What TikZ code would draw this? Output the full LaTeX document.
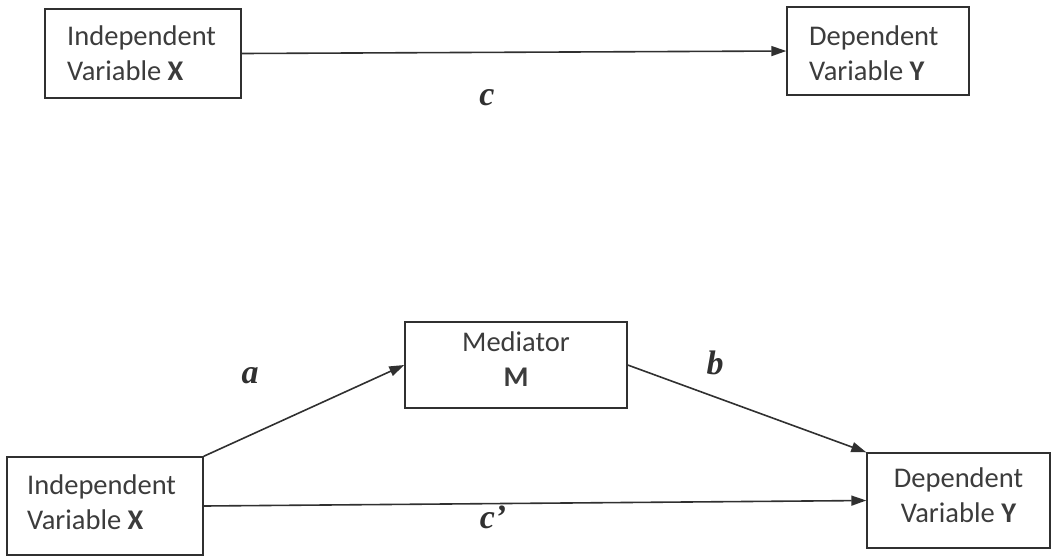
\documentclass[tikz,border=0pt]{standalone}
\usepackage{fontspec}
\setmainfont{Carlito}
\newfontfamily\labelfont{Liberation Serif}
\usetikzlibrary{arrows.meta}
\definecolor{ink}{HTML}{303030}
\definecolor{txt}{HTML}{3c3c3c}
\begin{document}
\begin{tikzpicture}[x=1pt,y=-1pt,
  box/.style={draw=ink, line width=1.4pt, inner sep=0pt},
  words/.style={text=txt, inner sep=0pt, font=\fontsize{28.5}{35}\selectfont},
  leftwords/.style={words, anchor=west, align=left},
  midwords/.style={words, align=center},
  link/.style={draw=ink, line width=1.6pt, -{Triangle[length=15pt,width=10pt]}},
  coef/.style={text=ink, font=\fontsize{34}{34}\labelfont\bfseries\itshape}]
\useasboundingbox (0,0) rectangle (1052,558);
% direct effect
\node[box, minimum width=196pt, minimum height=89pt] (tx) at (143,53.5) {};
\node[leftwords] (tx-t) at (67,53) {Independent\\Variable \textbf{X}};
\node[box, minimum width=182pt, minimum height=88pt] (ty) at (878,51) {};
\node[leftwords] (ty-t) at (809,53) {Dependent\\Variable \textbf{Y}};
\draw[link] (tx.east) -- (ty.west);
\node[coef] (c) at (487,98) {c};
% mediated effect
\node[box, minimum width=196pt, minimum height=98pt] (bx) at (105,506) {};
\node[leftwords] (bx-t) at (27,502) {Independent\\Variable \textbf{X}};
\node[box, minimum width=222pt, minimum height=86pt] (med) at (516,365) {};
\node[midwords] (med-t) at (516,359) {Mediator\\\textbf{M}};
\node[box, minimum width=183pt, minimum height=95pt] (by) at (958.5,500.5) {};
\node[midwords] (by-t) at (958.5,495.5) {Dependent\\Variable \textbf{Y}};
\draw[link] (bx.north east) -- (med.west);
\draw[link] (med.east) -- (by.north west);
\draw[link] (bx.east) -- (by.west);
\node[coef] (a) at (250,376) {a};
\node[coef] (b) at (715,363) {b};
\node[coef] (cp) at (493,517) {c’};
\end{tikzpicture}
\end{document}
